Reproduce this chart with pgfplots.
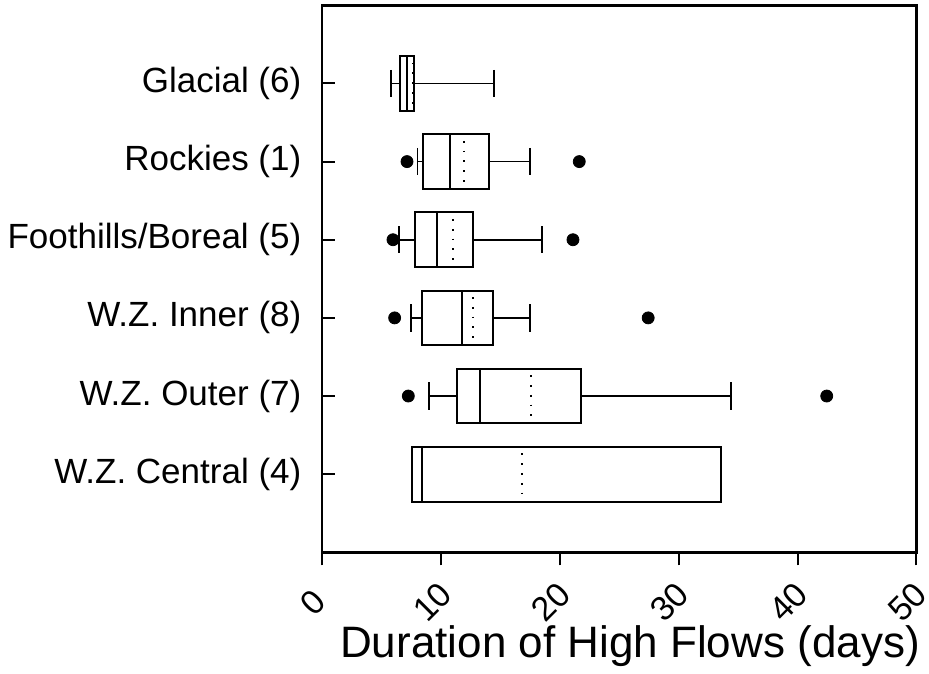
\documentclass[border=0pt]{standalone}
\usepackage{pgfplots}
\pgfplotsset{compat=1.18}
\usepgfplotslibrary{statistics}
\usepackage{fontspec}
\setmainfont{Liberation Sans}

\begin{document}
\begin{tikzpicture}
\begin{axis}[
  scale only axis,
  width=297pt, height=273.5pt,
  xmin=0, xmax=50,
  ymin=0, ymax=7,
  y dir=reverse,
  axis line style={line width=1.2pt},
  xtick={0,10,20,30,40,50},
  xtick align=outside,
  ytick align=inside,
  xtick pos=left, ytick pos=left,
  major tick length=6.5pt,
  major tick style={line width=1pt, black},
  ytick={1,2,3,4,5,6},
  yticklabels={Glacial (6), Rockies (1), Foothills/Boreal (5), W.Z. Inner (8), W.Z. Outer (7), W.Z. Central (4)},
  yticklabel style={font=\fontsize{17.5}{20}\selectfont, anchor=east, inner sep=0pt, xshift=-10.3pt},
  xticklabel style={font=\fontsize{17}{19}\selectfont, inner sep=0pt, anchor=center, xshift=-4.5pt, yshift=-18.5pt, rotate=45},
  /pgf/number format/assume math mode=true,
  xlabel={Duration of High Flows (days)},
  xlabel style={font=\fontsize{22}{26}\selectfont, at={(axis description cs:0.518,0)}, anchor=center, yshift=-46.8pt, inner sep=0pt},
  boxplot/draw direction=x,
  boxplot/box extend=0.7,
  boxplot/whisker extend=0.35,
  boxplot/every box/.style={line width=1pt},
  boxplot/every median/.style={line width=1pt},
  boxplot/every whisker/.style={line width=0.8pt},
  boxplot/draw/average/.code={%
    \draw[line width=1pt, dash pattern=on 0.9pt off 4pt]
      (boxplot box cs:\pgfplotsboxplotvalue{average},0.12) --
      (boxplot box cs:\pgfplotsboxplotvalue{average},0.9);
  },
  every axis plot/.append style={black, mark=*, mark size=3pt, mark options={fill=black, solid}},
]

% Glacial (6)
\addplot[boxplot prepared={draw position=1,
  lower whisker=5.78, lower quartile=6.57, median=7.10,
  upper quartile=7.75, upper whisker=14.43, average=7.65}]
  coordinates {};

% Rockies (1)
\addplot[boxplot prepared={draw position=2,
  lower whisker=8.00, lower quartile=8.50, median=10.75,
  upper quartile=14.06, upper whisker=17.48, average=11.96}]
  coordinates {(0,7.13) (0,21.63)};

% Foothills/Boreal (5)
\addplot[boxplot prepared={draw position=3,
  lower whisker=6.46, lower quartile=7.80, median=9.65,
  upper quartile=12.69, upper whisker=18.47, average=10.97}]
  coordinates {(0,5.95) (0,21.10)};

% W.Z. Inner (8)
\addplot[boxplot prepared={draw position=4,
  lower whisker=7.49, lower quartile=8.37, median=11.73,
  upper quartile=14.40, upper whisker=17.48, average=12.69}]
  coordinates {(0,6.09) (0,27.43)};

% W.Z. Outer (7)
\addplot[boxplot prepared={draw position=5,
  lower whisker=8.98, lower quartile=11.34, median=13.30,
  upper quartile=21.80, upper whisker=34.40, average=17.54}]
  coordinates {(0,7.24) (0,42.46)};

% W.Z. Central (4): no whiskers
\addplot[boxplot prepared={draw position=6,
  lower whisker=7.52, lower quartile=7.52, median=8.42,
  upper quartile=33.56, upper whisker=33.56, average=16.84}]
  coordinates {};

\end{axis}
\pgfresetboundingbox
\path[use as bounding box] (-161.15pt,-60.35pt) rectangle (303.35pt,276.15pt);
\end{tikzpicture}
\end{document}
